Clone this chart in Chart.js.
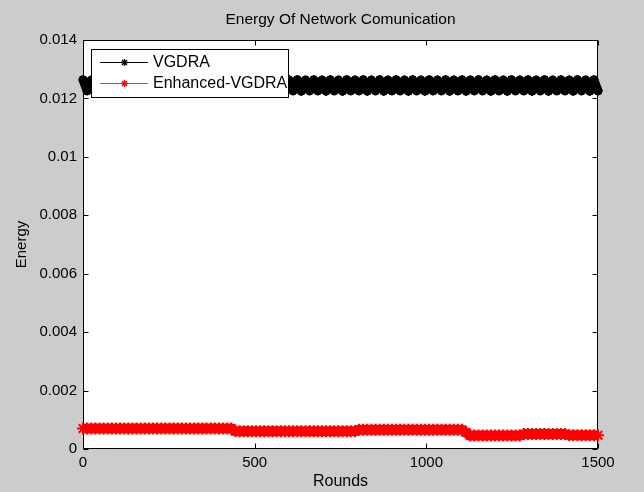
<!DOCTYPE html>
<html>
<head>
<meta charset="utf-8">
<script src="https://cdn.jsdelivr.net/npm/chart.js@4"></script>
<style>
  html, body { margin: 0; padding: 0; background: #cccccc; }
  #wrap { width: 644px; height: 492px; }
</style>
</head>
<body>
<div id="wrap"><canvas id="c" width="644" height="492"></canvas></div>
<script>
const chartTitle = 'Energy Of Network Comunication';
const xAxisTitle = 'Rounds';
const yAxisTitle = 'Energy';
const seriesNames = ['VGDRA', 'Enhanced-VGDRA'];
const xTicks = [0, 500, 1000, 1500];
const yTicks = [0, 0.002, 0.004, 0.006, 0.008, 0.01, 0.012, 0.014];

const rounds = [
  0,12,24,36,48,60,72,84,96,108,
  120,132,144,156,168,180,192,204,216,228,
  240,252,264,276,288,300,312,324,336,348,
  360,372,384,396,408,420,432,444,456,468,
  480,492,504,516,528,540,552,564,576,588,
  600,612,624,636,648,660,672,684,696,708,
  720,732,744,756,768,780,792,804,816,828,
  840,852,864,876,888,900,912,924,936,948,
  960,972,984,996,1008,1020,1032,1044,1056,1068,
  1080,1092,1104,1116,1128,1140,1152,1164,1176,1188,
  1200,1212,1224,1236,1248,1260,1272,1284,1296,1308,
  1320,1332,1344,1356,1368,1380,1392,1404,1416,1428,
  1440,1452,1464,1476,1488,1500
];

const vgdra = [
  0.01264,0.01226,0.01263,0.01225,0.01264,0.01226,0.01263,0.01226,0.01264,0.01225,
  0.01263,0.01226,0.01264,0.01225,0.01263,0.01226,0.01264,0.01226,0.01263,0.01225,
  0.01264,0.01226,0.01263,0.01225,0.01264,0.01226,0.01263,0.01226,0.01264,0.01225,
  0.01263,0.01226,0.01264,0.01225,0.01263,0.01226,0.01264,0.01226,0.01263,0.01225,
  0.01264,0.01226,0.01263,0.01225,0.01264,0.01226,0.01263,0.01226,0.01264,0.01225,
  0.01263,0.01226,0.01264,0.01225,0.01263,0.01226,0.01264,0.01226,0.01263,0.01225,
  0.01264,0.01226,0.01263,0.01225,0.01264,0.01226,0.01263,0.01226,0.01264,0.01225,
  0.01263,0.01226,0.01264,0.01225,0.01263,0.01226,0.01264,0.01226,0.01263,0.01225,
  0.01264,0.01226,0.01263,0.01225,0.01264,0.01226,0.01263,0.01226,0.01264,0.01225,
  0.01263,0.01226,0.01264,0.01225,0.01263,0.01226,0.01264,0.01226,0.01263,0.01225,
  0.01264,0.01226,0.01263,0.01225,0.01264,0.01226,0.01263,0.01226,0.01264,0.01225,
  0.01263,0.01226,0.01264,0.01225,0.01263,0.01226,0.01264,0.01226,0.01263,0.01225,
  0.01264,0.01226,0.01263,0.01225,0.01264,0.01226
];

const enhanced = [
  0.00070,0.00070,0.00070,0.00070,0.00070,0.00070,0.00070,0.00070,0.00070,0.00070,
  0.00070,0.00070,0.00070,0.00070,0.00070,0.00070,0.00070,0.00070,0.00070,0.00070,
  0.00070,0.00070,0.00070,0.00070,0.00070,0.00070,0.00070,0.00070,0.00070,0.00070,
  0.00070,0.00070,0.00070,0.00070,0.00070,0.00070,0.00070,0.00061,0.00061,0.00061,
  0.00061,0.00061,0.00061,0.00061,0.00061,0.00061,0.00061,0.00061,0.00061,0.00061,
  0.00061,0.00061,0.00061,0.00061,0.00061,0.00061,0.00061,0.00061,0.00061,0.00061,
  0.00061,0.00061,0.00061,0.00061,0.00061,0.00061,0.00061,0.00066,0.00066,0.00066,
  0.00066,0.00066,0.00066,0.00066,0.00066,0.00066,0.00066,0.00066,0.00066,0.00066,
  0.00066,0.00066,0.00066,0.00066,0.00066,0.00066,0.00066,0.00066,0.00066,0.00066,
  0.00066,0.00066,0.00066,0.00056,0.00046,0.00046,0.00046,0.00046,0.00046,0.00046,
  0.00046,0.00046,0.00046,0.00046,0.00046,0.00046,0.00046,0.00051,0.00051,0.00051,
  0.00051,0.00051,0.00051,0.00051,0.00051,0.00051,0.00051,0.00051,0.00047,0.00047,
  0.00047,0.00047,0.00047,0.00047,0.00047,0.00047
];

const FONT = "'Liberation Sans', Arial, sans-serif";
Chart.defaults.font.family = FONT;
Chart.defaults.font.size = 15;
Chart.defaults.color = '#000000';

function pts(ys) { return rounds.map((x, i) => ({ x: x, y: ys[i] })); }

function asterisk(ctx, x, y, r) {
  ctx.beginPath();
  ctx.moveTo(x - r, y); ctx.lineTo(x + r, y);
  ctx.moveTo(x, y - r); ctx.lineTo(x, y + r);
  const d = r * Math.SQRT1_2;
  ctx.moveTo(x - d, y - d); ctx.lineTo(x + d, y + d);
  ctx.moveTo(x - d, y + d); ctx.lineTo(x + d, y - d);
  ctx.stroke();
}

const framePlugin = {
  id: 'frame',
  beforeDraw(chart) {
    const a = chart.chartArea, ctx = chart.ctx;
    ctx.save();
    ctx.fillStyle = '#ffffff';
    ctx.fillRect(a.left, a.top, a.right - a.left, a.bottom - a.top);
    ctx.restore();
  },
  beforeDatasetsDraw(chart) {
    const a = chart.chartArea, ctx = chart.ctx;
    const xs = chart.scales.x, ys = chart.scales.y;
    ctx.save();
    ctx.strokeStyle = '#000000';
    ctx.lineWidth = 1;
    const L = Math.round(a.left) + 0.5, R = Math.round(a.right) - 0.5;
    const T = Math.round(a.top) + 0.5, B = Math.round(a.bottom) - 0.5;
    ctx.strokeRect(L, T, R - L, B - T);
    const tl = 5;
    ctx.beginPath();
    xs.ticks.forEach(t => {
      const px = Math.round(xs.getPixelForValue(t.value)) + 0.5;
      ctx.moveTo(px, B); ctx.lineTo(px, B - tl);
      ctx.moveTo(px, T); ctx.lineTo(px, T + tl);
    });
    ys.ticks.forEach(t => {
      const py = Math.round(ys.getPixelForValue(t.value)) + 0.5;
      ctx.moveTo(L, py); ctx.lineTo(L + tl, py);
      ctx.moveTo(R, py); ctx.lineTo(R - tl, py);
    });
    ctx.stroke();
    ctx.restore();
  },
  afterDatasetsDraw(chart) {
    const a = chart.chartArea, ctx = chart.ctx;
    ctx.save();
    ctx.fillStyle = '#000000';
    ctx.font = '15.5px ' + FONT;
    ctx.textAlign = 'center';
    ctx.textBaseline = 'middle';
    ctx.fillText(chartTitle, (a.left + a.right) / 2, 20);
    const bx = 91.5, by = 49.5, bw = 197, bh = 48;
    ctx.fillStyle = '#ffffff';
    ctx.fillRect(bx, by, bw, bh);
    ctx.strokeStyle = '#000000';
    ctx.lineWidth = 1;
    ctx.strokeRect(bx, by, bw, bh);
    const rows = [62, 83];
    ctx.font = '16px ' + FONT;
    chart.data.datasets.forEach((ds, i) => {
      const y = rows[i] + 0.5;
      ctx.strokeStyle = i === 0 ? '#000000' : '#ff3030';
      ctx.lineWidth = 1;
      ctx.beginPath();
      ctx.moveTo(100, y); ctx.lineTo(148, y);
      ctx.stroke();
      ctx.strokeStyle = ds.pointBorderColor;
      ctx.lineWidth = 1.3;
      asterisk(ctx, 124.5, y, 3.5);
      ctx.fillStyle = '#000000';
      ctx.textAlign = 'left';
      ctx.textBaseline = 'middle';
      ctx.fillText(ds.label, 153, rows[i] + 1);
    });
    ctx.restore();
  }
};

new Chart(document.getElementById('c'), {
  type: 'line',
  data: {
    datasets: [
      {
        label: seriesNames[0],
        data: pts(vgdra),
        borderColor: '#000000',
        backgroundColor: '#000000',
        borderWidth: 9,
        borderJoinStyle: 'round',
        borderCapStyle: 'round',
        pointStyle: 'star',
        pointRadius: 4.5,
        pointBorderWidth: 2,
        pointBorderColor: '#000000',
        tension: 0,
        clip: 8
      },
      {
        label: seriesNames[1],
        data: pts(enhanced),
        borderColor: '#ff0000',
        backgroundColor: '#ff0000',
        borderWidth: 10,
        borderJoinStyle: 'round',
        pointStyle: 'star',
        pointRadius: 6,
        pointBorderWidth: 2,
        pointBorderColor: '#ff0000',
        tension: 0,
        clip: 8
      }
    ]
  },
  options: {
    responsive: false,
    animation: false,
    layout: { padding: { top: 40, right: 46, left: 0, bottom: 0 } },
    plugins: {
      legend: { display: false },
      title: { display: false },
      tooltip: { enabled: false }
    },
    scales: {
      x: {
        type: 'linear',
        min: 0, max: 1500,
        afterBuildTicks(s) { s.ticks = xTicks.map(v => ({ value: v })); },
        afterFit(s) { s.height = 43; },
        grid: { display: false, drawTicks: false },
        border: { display: false },
        ticks: { padding: 5, maxRotation: 0, callback: v => String(v), color: '#000000' },
        title: { display: true, text: xAxisTitle, font: { size: 16 }, padding: { top: 0, bottom: 1 }, color: '#000000' }
      },
      y: {
        type: 'linear',
        min: 0, max: 0.014,
        afterBuildTicks(s) { s.ticks = yTicks.map(v => ({ value: v })); },
        afterFit(s) { s.width = 83; },
        grid: { display: false, drawTicks: false },
        border: { display: false },
        ticks: { padding: 6, callback: v => String(parseFloat(Number(v).toFixed(6))), color: '#000000' },
        title: { display: true, text: yAxisTitle, font: { size: 15 }, padding: { top: 13, bottom: 0 }, color: '#000000' }
      }
    }
  },
  plugins: [framePlugin]
});
</script>
</body>
</html>
